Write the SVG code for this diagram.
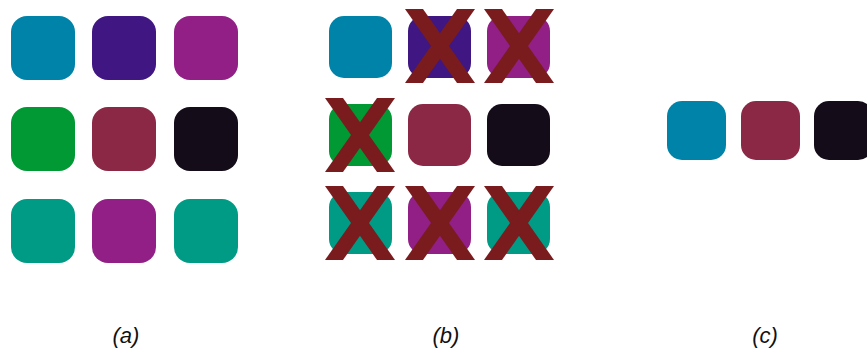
<svg xmlns="http://www.w3.org/2000/svg" width="867" height="351" viewBox="0 0 867 351">
<style>
.lbl{font-family:"Liberation Sans",Arial,sans-serif;font-style:italic;font-size:22px;fill:#111;text-anchor:middle}
.x{fill:#7A1C1E}
.c1{fill:#0083A9}.c2{fill:#3F1682}.c3{fill:#921F86}.c4{fill:#009933}.c5{fill:#8A2846}.c6{fill:#140C19}.c7{fill:#009B85}
</style>
<defs>
<g id="xmark"><polygon points="-35,-37 -17,-37 35,37 17,37"/><polygon points="17,-37 35,-37 -17,37 -35,37"/></g>
</defs>
<rect width="867" height="351" fill="#fff"/>
<g id="panel-a">
<rect class="c1" x="11" y="16" width="64" height="64" rx="16"/>
<rect class="c2" x="92" y="16" width="64" height="64" rx="16"/>
<rect class="c3" x="174" y="16" width="64" height="64" rx="16"/>
<rect class="c4" x="11" y="107" width="64" height="64" rx="16"/>
<rect class="c5" x="92" y="107" width="64" height="64" rx="16"/>
<rect class="c6" x="174" y="107" width="64" height="64" rx="16"/>
<rect class="c7" x="11" y="199" width="64" height="64" rx="16"/>
<rect class="c3" x="92" y="199" width="64" height="64" rx="16"/>
<rect class="c7" x="174" y="199" width="64" height="64" rx="16"/>
<text class="lbl" x="126" y="343">(a)</text>
</g>
<g id="panel-b">
<rect class="c1" x="329" y="16" width="63" height="62" rx="15"/>
<rect class="c2" x="408" y="16" width="63" height="62" rx="15"/>
<rect class="c3" x="487" y="16" width="63" height="62" rx="15"/>
<rect class="c4" x="329" y="104" width="63" height="62" rx="15"/>
<rect class="c5" x="408" y="104" width="63" height="62" rx="15"/>
<rect class="c6" x="487" y="104" width="63" height="62" rx="15"/>
<rect class="c7" x="329" y="192" width="63" height="62" rx="15"/>
<rect class="c3" x="408" y="192" width="63" height="62" rx="15"/>
<rect class="c7" x="487" y="192" width="63" height="62" rx="15"/>
<g class="x">
<use href="#xmark" x="440" y="46"/>
<use href="#xmark" x="519" y="46"/>
<use href="#xmark" x="360" y="135"/>
<use href="#xmark" x="360" y="223"/>
<use href="#xmark" x="440" y="223"/>
<use href="#xmark" x="519" y="223"/>
</g>
<text class="lbl" x="446" y="343">(b)</text>
</g>
<g id="panel-c">
<rect class="c1" x="667" y="101" width="59" height="59" rx="15"/>
<rect class="c5" x="741" y="101" width="59" height="59" rx="15"/>
<rect class="c6" x="814" y="101" width="59" height="59" rx="15"/>
<text class="lbl" x="765" y="343">(c)</text>
</g>
</svg>
